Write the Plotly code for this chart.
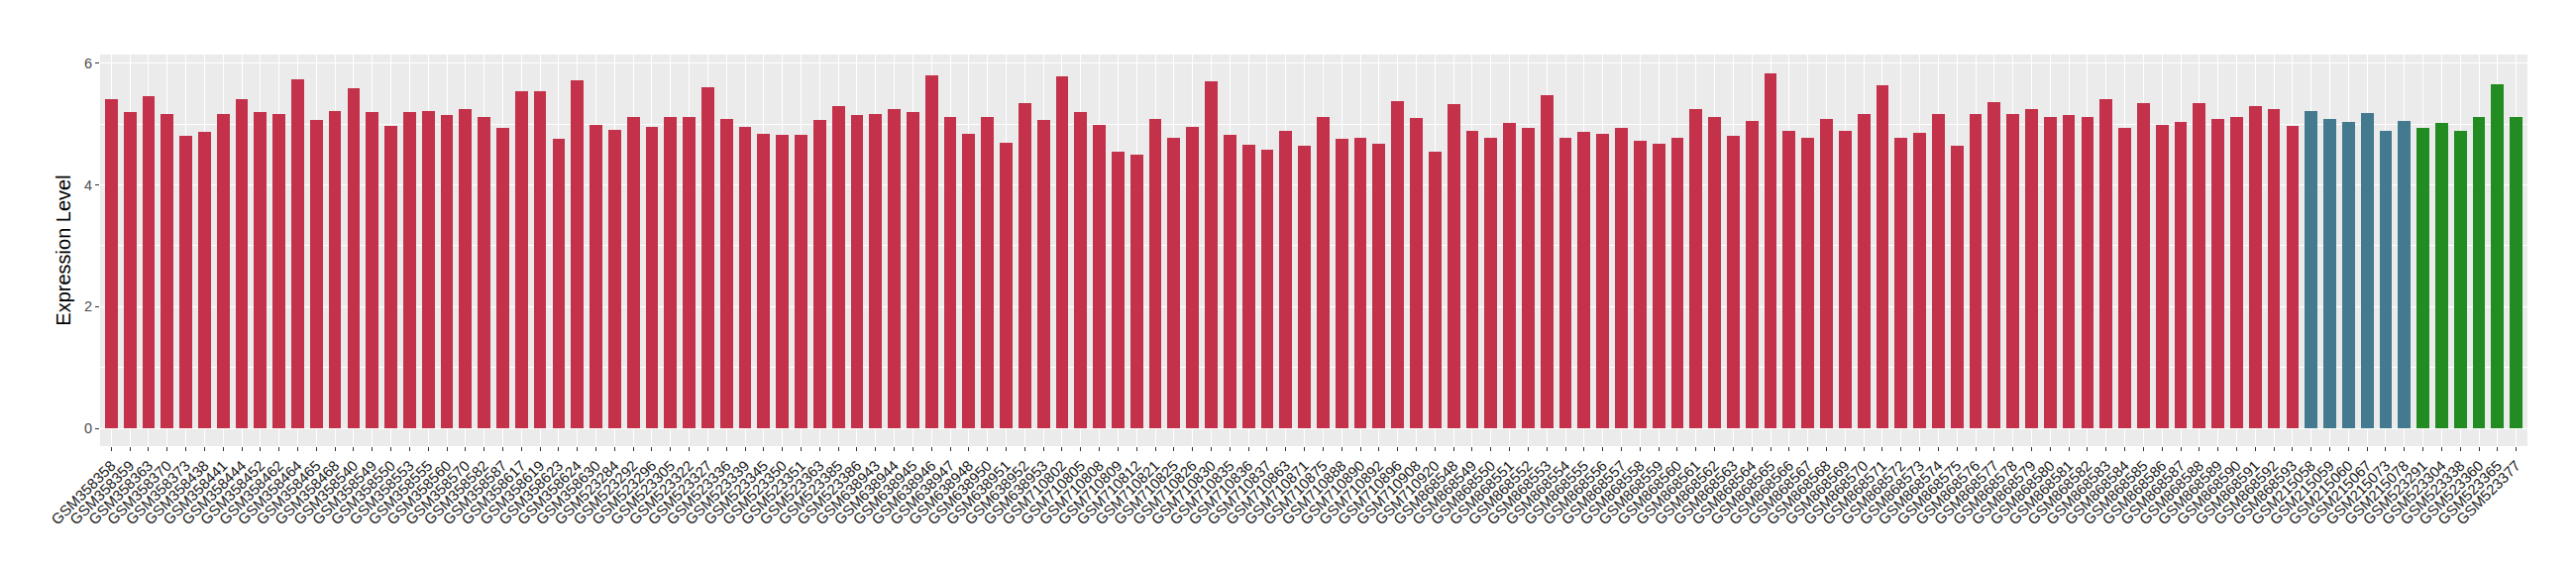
import plotly.graph_objects as go

# sample ids per group
group_a = (
    ["GSM358358", "GSM358359", "GSM358363", "GSM358370", "GSM358373", "GSM358438",
     "GSM358441", "GSM358444", "GSM358452", "GSM358462", "GSM358464", "GSM358465",
     "GSM358468", "GSM358540", "GSM358549", "GSM358550", "GSM358553", "GSM358555",
     "GSM358560", "GSM358570", "GSM358582", "GSM358587", "GSM358617", "GSM358619",
     "GSM358623", "GSM358624", "GSM358630"]
    + ["GSM523284", "GSM523292", "GSM523296", "GSM523305", "GSM523322", "GSM523327",
       "GSM523336", "GSM523339", "GSM523345", "GSM523350", "GSM523351", "GSM523363",
       "GSM523385", "GSM523386"]
    + ["GSM638943", "GSM638944", "GSM638945", "GSM638946", "GSM638947", "GSM638948",
       "GSM638950", "GSM638951", "GSM638952", "GSM638953"]
    + ["GSM710802", "GSM710805", "GSM710808", "GSM710809", "GSM710812", "GSM710821",
       "GSM710825", "GSM710826", "GSM710830", "GSM710835", "GSM710836", "GSM710837",
       "GSM710863", "GSM710871", "GSM710875", "GSM710888", "GSM710890", "GSM710892",
       "GSM710896", "GSM710908", "GSM710920"]
    + ["GSM8685%02d" % n for n in range(48, 94)]
)
group_b = ["GSM215058", "GSM215059", "GSM215060", "GSM215067", "GSM215073", "GSM215078"]
group_c = ["GSM523291", "GSM523304", "GSM523338", "GSM523360", "GSM523365", "GSM523377"]

values_a = [
    5.40, 5.19, 5.45, 5.16, 4.80, 4.87, 5.16, 5.40, 5.19, 5.16, 5.74, 5.06, 5.22, 5.58,
    5.20, 4.96, 5.20, 5.22, 5.14, 5.24, 5.11, 4.93, 5.54, 5.53, 4.75, 5.72, 4.99, 4.90,
    5.12, 4.95, 5.11, 5.12, 5.61, 5.09, 4.95, 4.83, 4.82, 4.82, 5.06, 5.30, 5.14, 5.17,
    5.25, 5.20, 5.80, 5.11, 4.83, 5.12, 4.69, 5.35, 5.06, 5.78, 5.20, 4.99, 4.54, 4.49,
    5.08, 4.78, 4.95, 5.70, 4.82, 4.66, 4.58, 4.88, 4.64, 5.12, 4.75, 4.78, 4.68, 5.37,
    5.10, 4.55, 5.33, 4.88, 4.78, 5.02, 4.93, 5.47, 4.78, 4.87, 4.83, 4.94, 4.73, 4.68,
    4.78, 5.25, 5.12, 4.80, 5.05, 5.83, 4.88, 4.78, 5.08, 4.88, 5.17, 5.63, 4.78, 4.86,
    5.17, 4.65, 5.17, 5.36, 5.17, 5.25, 5.12, 5.15, 5.12, 5.40, 4.93, 5.35, 4.98, 5.03,
    5.35, 5.08, 5.12, 5.30, 5.25, 4.96,
]
values_b = [5.22, 5.08, 5.04, 5.18, 4.88, 5.05]
values_c = [4.93, 5.02, 4.88, 5.12, 5.65, 5.12]

colors = {"a": "#C3324A", "b": "#447A8F", "c": "#228B22"}

samples = group_a + group_b + group_c

fig = go.Figure()
for names, vals, key in [(group_a, values_a, "a"), (group_b, values_b, "b"), (group_c, values_c, "c")]:
    fig.add_trace(go.Bar(x=names, y=vals, marker_color=colors[key], marker_line_width=0,
                         width=0.68, showlegend=False))

fig.update_layout(
    width=2600, height=580,
    margin=dict(l=93, r=57, t=47, b=138),
    paper_bgcolor="white",
    plot_bgcolor="#EBEBEB",
    font=dict(family="Liberation Sans, Arial, sans-serif", color="#4D4D4D"),
    bargap=0,
)
fig.update_xaxes(
    categoryorder="array", categoryarray=samples,
    range=[-0.6, len(samples) - 0.4],
    tickmode="array", tickvals=samples, ticktext=samples,
    tickangle=-45, tickfont=dict(size=15, color="#1A1A1A"),
    ticks="outside", ticklen=4, tickcolor="#333333",
    showgrid=True, gridcolor="white", gridwidth=1.1,
    zeroline=False, showline=False, automargin=False,
)
fig.update_yaxes(
    range=[-0.29, 6.14],
    tickvals=[0, 2, 4, 6], ticktext=["0", "2", "4", "6"],
    tickfont=dict(size=14.5, color="#4D4D4D"),
    ticks="outside", ticklen=4, tickcolor="#333333",
    showgrid=True, gridcolor="white", gridwidth=1.4,
    minor=dict(tickvals=[1, 3, 5], showgrid=True, gridcolor="white", gridwidth=0.6, ticks=""),
    zeroline=False, showline=False, automargin=False,
    title=dict(text="Expression Level", font=dict(size=20, color="black"), standoff=8),
)

fig.write_html("out.html")
